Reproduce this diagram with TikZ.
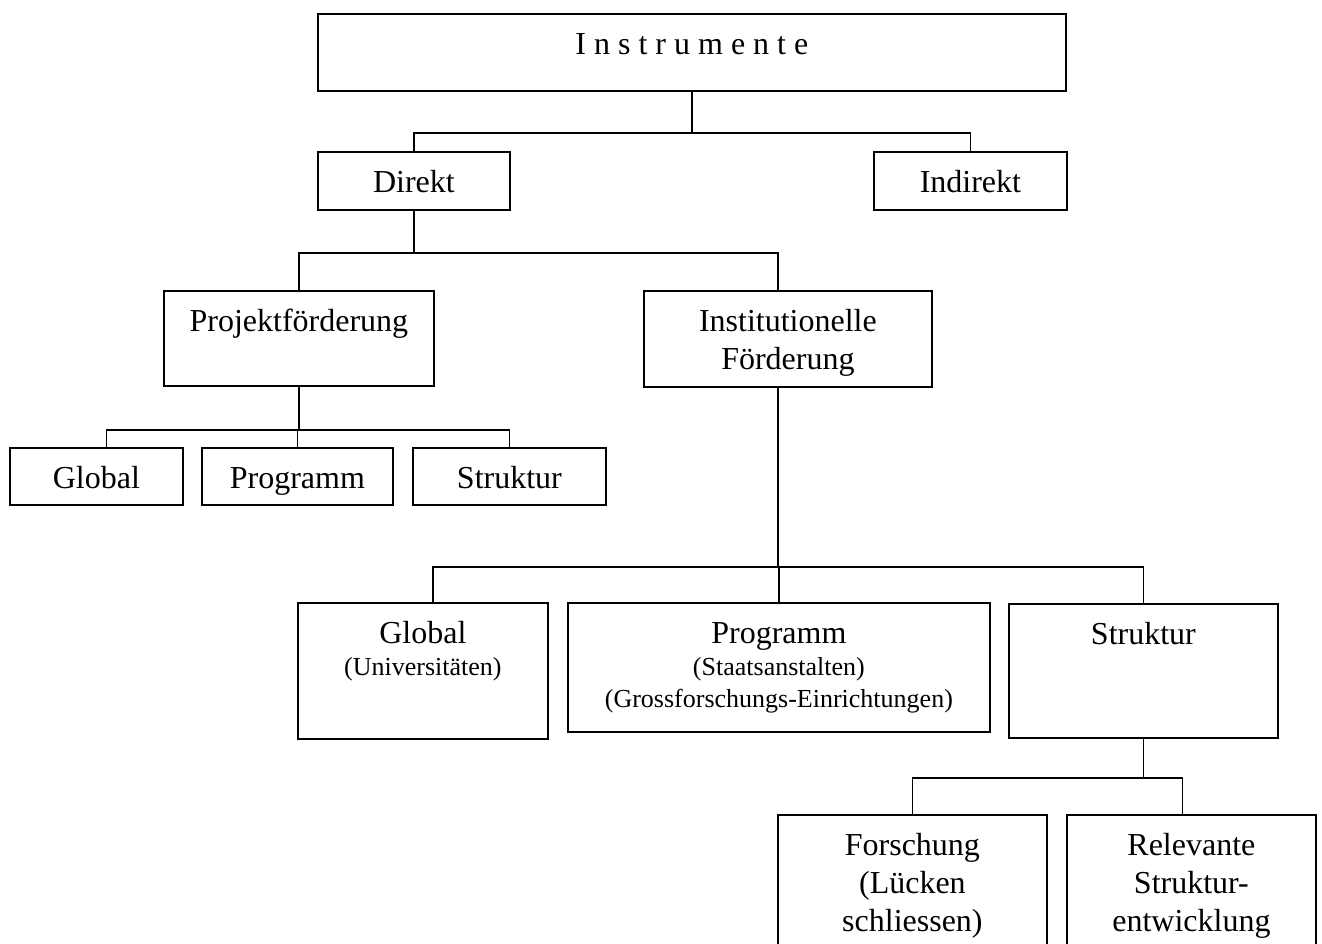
\documentclass[tikz,border=0pt]{standalone}
\usepackage{fontspec}
\setmainfont{Liberation Serif}
\usepackage{tikz}

\begin{document}
\begin{tikzpicture}[x=1pt,y=-1pt]
  \tikzset{
    blk/.style={draw, line width=1.8pt, inner sep=0pt, anchor=north west},
    link/.style={draw, line width=1.6pt},
  }
  % text hangs from the top edge of a box of fixed size
  \newcommand\Cell[3]{\parbox[c][#2pt][t]{#1pt}{\centering
      \fontsize{32}{38}\selectfont\rule{0pt}{41pt}#3}}
  \newcommand\Small{\fontsize{26}{32}\selectfont}

  % page frame, also cuts the lowest boxes
  \clip (0,0) rectangle (1322,944);

  % top levels
  \node[blk] (instr) at (317,13) {\Cell{748}{77}{I n s t r u m e n t e}};
  \node[blk] (direkt) at (317,151) {\Cell{192}{58}{Direkt}};
  \node[blk] (indirekt) at (873,151) {\Cell{193}{58}{Indirekt}};

  \node[blk] (projekt) at (163,290) {\Cell{270}{95}{Projektförderung}};
  \node[blk] (inst) at (643,290) {\Cell{288}{96}{Institutionelle\par Förderung}};

  % under Projektfoerderung
  \node[blk] (pglobal) at (9,447) {\Cell{173}{57}{Global}};
  \node[blk] (pprog) at (201,447) {\Cell{191}{57}{Programm}};
  \node[blk] (pstrukt) at (412,447) {\Cell{193}{57}{Struktur}};

  % under Institutionelle Foerderung
  \node[blk] (iglobal) at (297,602)
    {\Cell{250}{136}{Global\par\Small(Universitäten)}};
  \node[blk] (iprog) at (567,602)
    {\Cell{422}{129}{Programm\par\Small(Staatsanstalten)\par
      (Grossforschungs-Einrichtungen)}};
  \node[blk] (istrukt) at (1008,603) {\Cell{269}{134}{Struktur}};

  % under Struktur
  \node[blk] (forsch) at (777,814)
    {\Cell{269}{160}{Forschung\par(Lücken\par schliessen)}};
  \node[blk] (relev) at (1066,814)
    {\Cell{249}{160}{Relevante\par Struktur-\par entwicklung}};

  % connectors, each with its own junction point
  \draw[link] (instr.south) -- ++(0,41) coordinate (j1);
  \draw[link] (direkt.north) |- (j1) -| (indirekt.north);

  \draw[link] (direkt.south) -- ++(0,42) coordinate (j2);
  \draw[link] (projekt.north) |- (j2) -| ([xshift=-10pt]inst.north);

  \draw[link] (projekt.south) -- ++(0,43) coordinate (j3);
  \draw[link] ([xshift=10pt]pglobal.north) |- (j3) -| (pstrukt.north);
  \draw[link] (pprog.north) -- (pprog.north |- j3);

  \draw[link] ([xshift=-10pt]inst.south) -- ++(0,179) coordinate (j4);
  \draw[link] ([xshift=10pt]iglobal.north) |- (j4) -| (istrukt.north);
  \draw[link] (iprog.north) -- (iprog.north |- j4);

  \draw[link] (istrukt.south) -- ++(0,39) coordinate (j5);
  \draw[link] (forsch.north) |- (j5) -| ([xshift=-9pt]relev.north);
\end{tikzpicture}
\end{document}
